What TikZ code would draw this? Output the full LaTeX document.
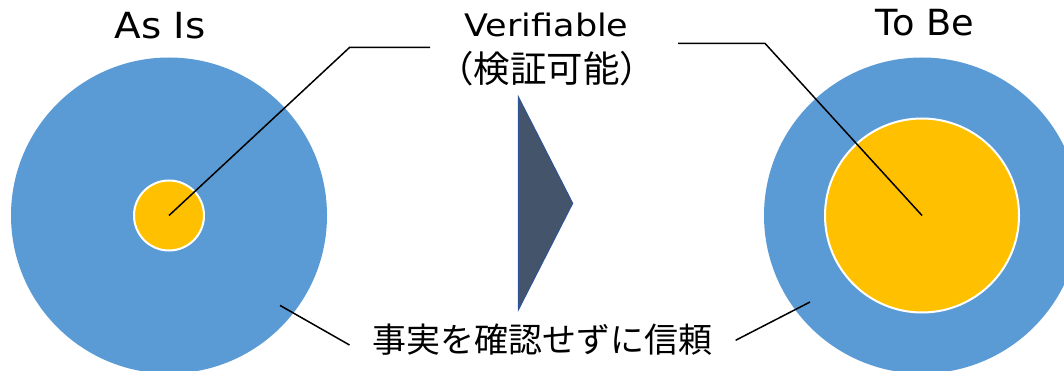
\documentclass[tikz,border=0pt]{standalone}
\usepackage{fontspec}
\setmainfont{DejaVu Sans}
\newfontfamily\jp[Kerning=Off]{Noto Sans CJK JP}
\definecolor{ringblue}{HTML}{5B9BD5}
\definecolor{coreorange}{HTML}{FFC000}
\definecolor{arrowfill}{HTML}{44546A}
\definecolor{arrowedge}{HTML}{2F5597}
\begin{document}
\begin{tikzpicture}[x=1pt,y=-1pt,
  outer/.style={circle,fill=ringblue,inner sep=0pt,minimum size=316pt},
  core/.style={circle,fill=coreorange,draw=white,line width=2pt,inner sep=0pt},
  leader/.style={draw=black,line width=1.5pt},
  title/.style={anchor=base,inner sep=0pt,font=\fontsize{36}{40}\selectfont}]
\useasboundingbox (0,0) rectangle (1064,371);
% circles
\node[outer] (asis) at (169,215.5) {};
\node[core,minimum size=70pt] (asiscore) at (169,215.5) {};
\node[outer] (tobe) at (922,215.5) {};
\node[core,minimum size=194pt] (tobecore) at (922,215.5) {};
% titles
\node[title] (asistitle) at (160,39) {\scalebox{1.08}[1]{As Is}};
\node[title] (tobetitle) at (925,35.6) {\scalebox{1.02}[1]{To Be}};
\node[anchor=base,inner sep=0pt,font=\fontsize{31}{36}\selectfont] (verif) at (546.5,37) {\scalebox{1.13}[1]{Verifiable}};
\node[anchor=base,inner sep=0pt,font=\jp\fontsize{36.5}{40}\selectfont] (verifjp) at (546.5,82.5) {\makebox[15pt][r]{（}検証可能\makebox[15pt][l]{）}};
\node[anchor=base,inner sep=0pt,font=\jp\fontsize{34}{40}\selectfont] (trust) at (542,352.5) {事実を確認せずに信頼};
% arrow
\coordinate (arTop) at (518.3,96.7);
\coordinate (arTip) at (572.7,203.3);
\coordinate (arBot) at (518.3,310);
\filldraw[fill=arrowfill,draw=arrowedge,line width=1pt,line join=miter] (arTop) -- (arTip) -- (arBot) -- cycle;
% leader lines
\coordinate (l1a) at (349.5,47.5);
\coordinate (l1b) at (430,47.5);
\draw[leader] (asiscore.center) -- (l1a) -- (l1b);
\coordinate (r1a) at (765,43.4);
\coordinate (r1b) at (678,43.4);
\draw[leader] (tobecore.center) -- (r1a) -- (r1b);
\coordinate (b1a) at (280,305.4);
\coordinate (b1b) at (349.5,345);
\draw[leader] (b1a) -- (b1b);
\coordinate (b2a) at (810,302);
\coordinate (b2b) at (735.6,340.3);
\draw[leader] (b2a) -- (b2b);
\end{tikzpicture}
\end{document}
